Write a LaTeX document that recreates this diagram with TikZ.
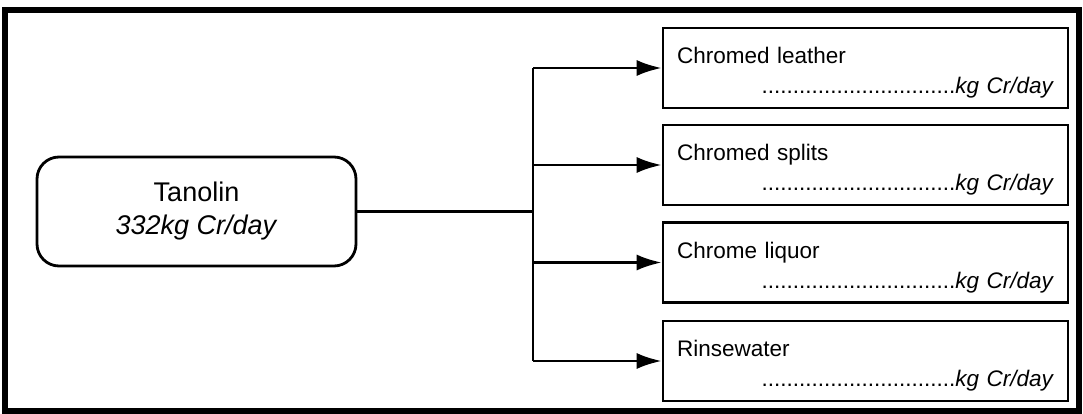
\documentclass[tikz,border=0pt]{standalone}
\usepackage{fontspec}
\setmainfont{Liberation Sans}
\usetikzlibrary{arrows.meta}

\newcommand{\crfill}{\hspace*{\stretch{100}}...............................\textit{kg Cr/day}}
\newcommand{\toprule}{\rule{0pt}{26pt}}

\begin{document}
\begin{tikzpicture}[x=1pt,y=-1pt,
        source/.style={draw,line width=2.8pt,rounded corners=22pt,minimum width=319pt,minimum height=109pt,align=center,font=\fontsize{27}{33}\selectfont},
        sink/.style={draw,line width=2.6pt,minimum width=405pt,minimum height=80pt,text width=377pt,inner xsep=14pt,align=left,font=\fontsize{22.5}{30}\selectfont},
        link/.style={line width=2.8pt},
        flow/.style={link,-{Latex[length=25pt,width=16pt]}}]
        \useasboundingbox (0,0) rectangle (1083,414);
        \draw[line width=5.5pt] (5,10) rectangle (1079,411);
        \node[source] (tanolin) at (196.5,211.5) {Tanolin\\\textit{332kg Cr/day}};
        \node[sink] (leather) at (865.5,68) {\toprule Chromed leather\\\crfill};
        \node[sink] (splits) at (865.5,165) {\toprule Chromed splits\\\crfill};
        \node[sink] (liquor) at (865.5,262.5) {\toprule Chrome liquor\\\crfill};
        \node[sink] (rinse) at (865.5,361) {\toprule Rinsewater\\\crfill};
        \coordinate (split) at (533,211.5);
        \draw[link] (tanolin.east) -- (split);
        \draw[link] (split |- leather.west) -- (split |- rinse.west);
        \draw[flow] (split |- leather.west) -- (leather.west);
        \draw[flow] (split |- splits.west) -- (splits.west);
        \draw[flow] (split |- liquor.west) -- (liquor.west);
        \draw[flow] (split |- rinse.west) -- (rinse.west);
    \end{tikzpicture}
\end{document}
